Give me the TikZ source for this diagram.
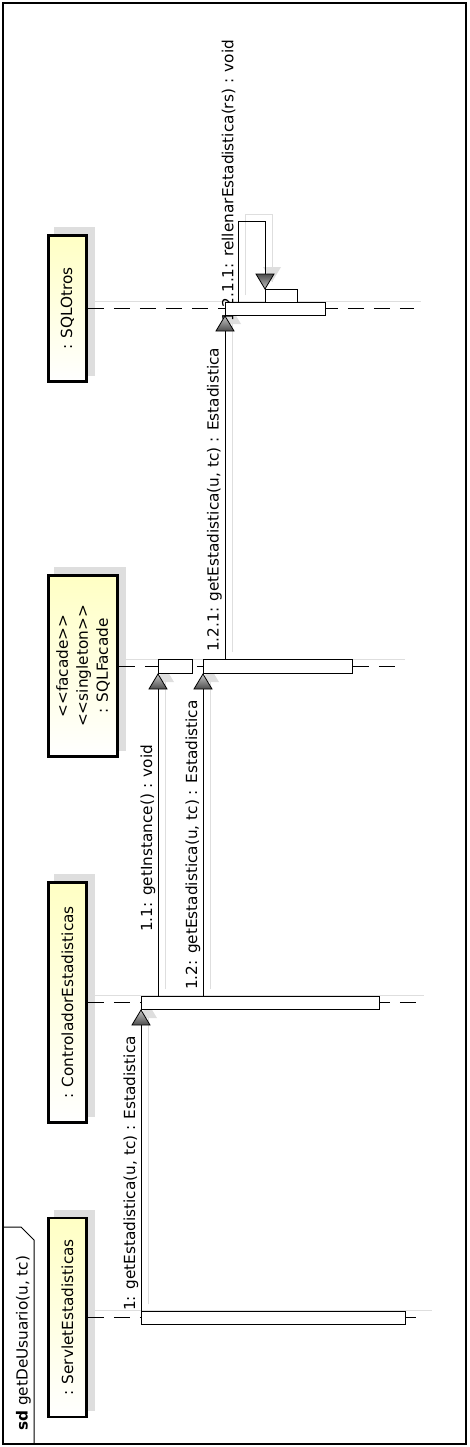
\documentclass[tikz,border=0pt]{standalone}
\usepackage{fontspec}
\setmainfont{DejaVu Sans}
\pgfdeclarelayer{bg}
\pgfdeclarelayer{mid}
\pgfsetlayers{bg,mid,main}
\definecolor{headyellow}{RGB}{255,255,196}
\definecolor{ghostc}{RGB}{222,222,222}
\tikzset{
  headbox/.style={draw, line width=2.8pt, top color=headyellow, bottom color=white, inner sep=0pt},
  headtext/.style={rotate=90, align=center, inner sep=0pt},
  act/.style={draw, fill=white, line width=1pt, inner sep=0pt, anchor=north west},
  lifeline/.style={line width=1pt, dash pattern=on 16pt off 10pt},
  msg/.style={line width=1pt},
  ghost/.style={draw=ghostc, line width=1pt},
  lbl/.style={rotate=90, anchor=south west, inner sep=0pt},
  uptip/.pic={\shade[top color=gray!45, bottom color=black!70, draw=black, line width=0.8pt] (0,0) -- (-9,15) -- (9,15) -- cycle;},
  dntip/.pic={\shade[top color=black!70, bottom color=gray!45, draw=black, line width=0.8pt] (0,0) -- (-9,-15) -- (9,-15) -- cycle;},
  ghostup/.pic={\fill[ghostc] (7,-7) -- (-2,8) -- (16,8) -- cycle;},
  ghostdn/.pic={\fill[ghostc] (7,-7) -- (-2,-22) -- (16,-22) -- cycle;}
}
\begin{document}
\begin{tikzpicture}[x=1pt,y=-1pt,font=\fontsize{15.3}{20}\selectfont]
\useasboundingbox (0,0) rectangle (469,1447);
% frame
\draw[line width=1.2pt] (3,3) rectangle (466,1444);
\draw[line width=1pt] (3,1227) -- (21,1227) -- (34,1240) -- (34,1444);
\node[lbl, anchor=base west] (title) at (27.5,1431) {\textbf{sd} getDeUsuario(u, tc)};

% lifeline heads
\node[headbox, minimum width=38, minimum height=199] (hS) at (67.5,1317.5) {};
\node[headtext] (tS) at (hS.center) {: ServletEstadisticas};
\node[headbox, minimum width=38, minimum height=240] (hC) at (67.5,1002.5) {};
\node[headtext] (tC) at (hC.center) {: ControladorEstadisticas};
\node[headbox, minimum width=69, minimum height=181] (hF) at (83,666) {};
\node[headtext] (tF) at (hF.center) {<\kern0pt<facade>\kern0pt>\\<\kern0pt<singleton>\kern0pt>\\: SQLFacade};
\node[headbox, minimum width=38, minimum height=146] (hO) at (67.5,308.5) {};
\node[headtext] (tO) at (hO.center) {: SQLOtros};

% lifeline ends
\coordinate (eS) at (425,1317.5);
\coordinate (eC) at (417,1002.5);
\coordinate (eF) at (398,666);
\coordinate (eO) at (414,308.5);

% activations
\node[act, minimum width=264, minimum height=13] (aS) at (141,1311) {};
\node[act, minimum width=238, minimum height=13] (aC) at (141,996) {};
\node[act, minimum width=34, minimum height=14] (aF1) at (158,659) {};
\node[act, minimum width=149, minimum height=14] (aF2) at (203,659) {};
\node[act, minimum width=100, minimum height=13] (aO) at (225,302) {};
\node[act, minimum width=32, minimum height=13] (aN) at (265,289) {};
\coordinate (s0) at ([xshift=13]aO.north west);
\coordinate (sTop) at (0,222);

% arrow tips
\pic at (aC.south west) {uptip};
\pic at (aF1.south west) {uptip};
\pic at (aF2.south west) {uptip};
\pic at (aO.south west) {uptip};
\pic at (aN.north west) {dntip};

\begin{pgfonlayer}{bg}
  % ghost shadows
  \foreach \h in {hS,hC,hF,hO}
    \fill[ghostc] ([shift={(7,-7)}]\h.south west) rectangle ([shift={(7,-7)}]\h.north east);
  \draw[ghost] ([shift={(7,-7)}]hS.east) -- ([shift={(7,-7)}]eS);
  \draw[ghost] ([shift={(7,-7)}]hC.east) -- ([shift={(7,-7)}]eC);
  \draw[ghost] ([shift={(7,-7)}]hF.east) -- ([shift={(7,-7)}]eF);
  \draw[ghost] ([shift={(7,-7)}]hO.east) -- ([shift={(7,-7)}]eO);
  \draw[ghost] ([shift={(7,-7)}]aS.north west) -- ([shift={(7,-7)}]aC.south west);
  \draw[ghost] ([shift={(7,-7)}]aF1.south west |- aC.north) -- ([shift={(7,-7)}]aF1.south west);
  \draw[ghost] ([shift={(7,-7)}]aF2.south west |- aC.north) -- ([shift={(7,-7)}]aF2.south west);
  \draw[ghost] ([shift={(7,-7)}]aO.south west |- aF2.north) -- ([shift={(7,-7)}]aO.south west);
  \draw[ghost] ([shift={(7,-7)}]s0) -- ([shift={(7,-7)}]s0 |- sTop) -| ([shift={(7,-7)}]aN.north west);
  \pic at (aC.south west) {ghostup};
  \pic at (aF1.south west) {ghostup};
  \pic at (aF2.south west) {ghostup};
  \pic at (aO.south west) {ghostup};
  \pic at (aN.north west) {ghostdn};
  % lifelines
  \draw[lifeline] (hS.east) -- (eS);
  \draw[lifeline] (hC.east) -- (eC);
  \draw[lifeline] (hF.east) -- (eF);
  \draw[lifeline] (hO.east) -- (eO);
\end{pgfonlayer}

\begin{pgfonlayer}{mid}
  % messages
  \draw[msg] (aS.north west) -- (aC.south west);
  \draw[msg] (aF1.south west |- aC.north) -- (aF1.south west);
  \draw[msg] (aF2.south west |- aC.north) -- (aF2.south west);
  \draw[msg] (aO.south west |- aF2.north) -- (aO.south west);
  \draw[msg] (s0) -- (s0 |- sTop) -| (aN.north west);
  % labels
  \node[lbl] (l1) at (138.5,1311) {1: getEstadistica(u, tc) : Estadistica};
  \node[lbl] (l11) at (155.5,932) {1.1: getInstance() : void};
  \node[lbl] (l12) at (200.5,990) {1.2: getEstadistica(u, tc) : Estadistica};
  \node[lbl] (l121) at (222,652) {1.2.1: getEstadistica(u, tc) : Estadistica};
  \node[lbl] (l1211) at (235.5,322) {1.2.1.1: rellenarEstadistica(rs) : void};
\end{pgfonlayer}
\end{tikzpicture}
\end{document}
